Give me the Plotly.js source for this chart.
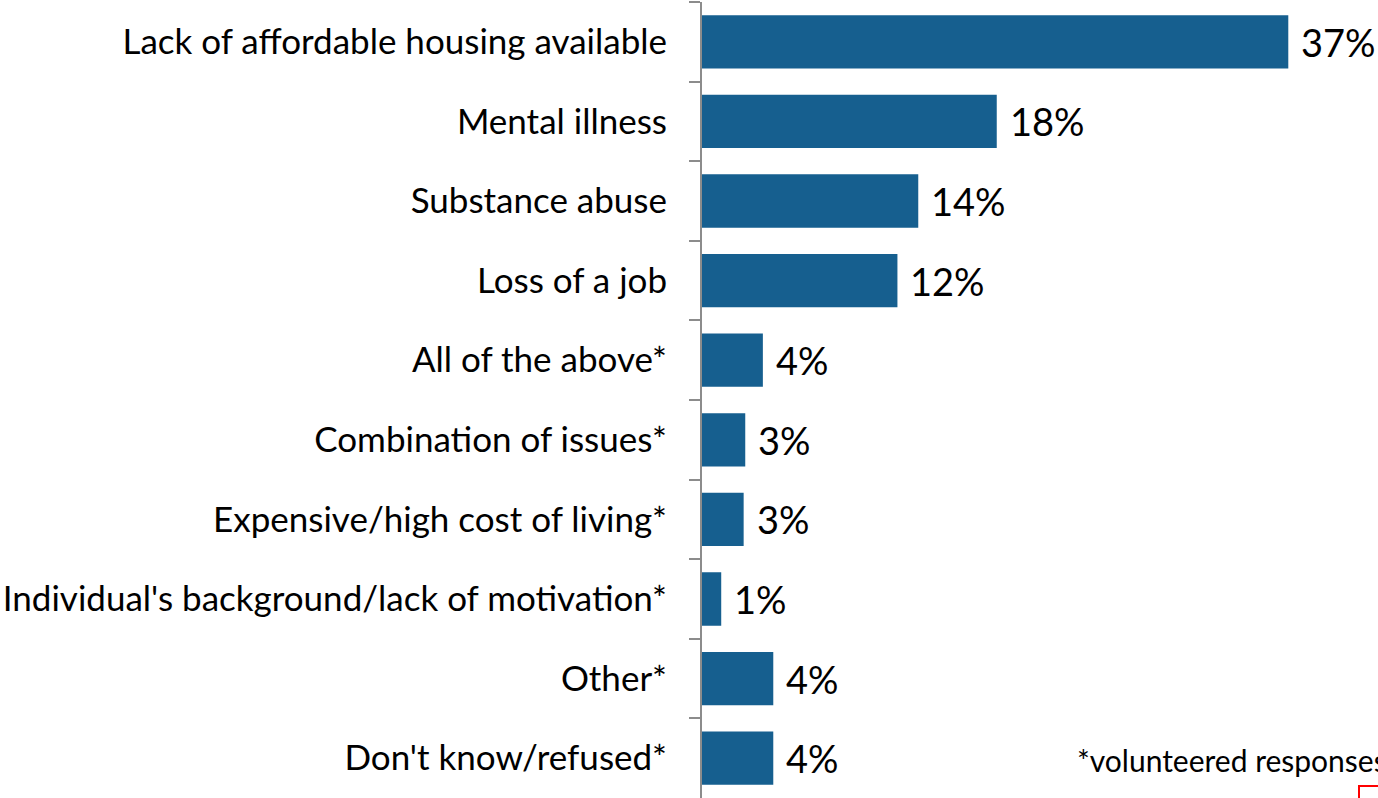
<!DOCTYPE html>
<html>
<head>
<meta charset="utf-8">
<script src="https://cdn.plot.ly/plotly-3.0.1.min.js"></script>
<style>html,body{margin:0;padding:0;background:#fff;}#chart{width:1378px;height:798px;}</style>
</head>
<body>
<div id="chart"></div>
<script>
const categories = [
  "Lack of affordable housing available",
  "Mental illness",
  "Substance abuse",
  "Loss of a job",
  "All of the above*",
  "Combination of issues*",
  "Expensive/high cost of living*",
  "Individual's background/lack of motivation*",
  "Other*",
  "Don't know/refused*"
];
const values = [36.6, 18.4, 13.5, 12.2, 3.8, 2.7, 2.6, 1.2, 4.45, 4.45];
const labels = ["37%", "18%", "14%", "12%", "4%", "3%", "3%", "1%", "4%", "4%"];
const footnote = "*volunteered responses";

const FONT = "Lato, 'Open Sans', sans-serif";
const barColor = "#165f8f";

const trace = {
  type: "bar",
  orientation: "h",
  x: values,
  y: categories,
  marker: {color: barColor, line: {width: 0}},
  hoverinfo: "none"
};

const annotations = categories.map((c, i) => ({
  x: values[i], y: c, xref: "x", yref: "y",
  text: labels[i], showarrow: false,
  xanchor: "left", yanchor: "middle", xshift: 11, yshift: 0,
  font: {family: FONT, size: 38, color: "#000"}
}));
annotations.push({
  x: (1075 - 702) / 676, y: 1 - (760 - 2) / 796, xref: "paper", yref: "paper",
  text: footnote, showarrow: false, xanchor: "left", yanchor: "middle",
  font: {family: FONT, size: 30, color: "#000"}
});

const layout = {
  width: 1378, height: 798,
  margin: {l: 702, r: 0, t: 2, b: 0, pad: 0},
  paper_bgcolor: "#fff", plot_bgcolor: "#fff",
  showlegend: false,
  bargap: 0.33,
  xaxis: {range: [0, 42.2], visible: false, fixedrange: true},
  yaxis: {
    autorange: "reversed",
    showline: true, linecolor: "#8c8c8c", linewidth: 2,
    ticks: "outside", tickson: "boundaries", ticklen: 11, tickwidth: 2, tickcolor: "#8c8c8c",
    ticklabelstandoff: 26,
    showgrid: false, zeroline: false,
    tickfont: {family: FONT, size: 35, color: "#000"},
    fixedrange: true
  },
  annotations: annotations,
  shapes: [{
    type: "rect", xref: "paper", yref: "paper",
    x0: (1359 - 702) / 676, x1: 1.1, y0: -0.2, y1: 1 - (786 - 2) / 796,
    line: {color: "#ff0000", width: 2}, fillcolor: "rgba(0,0,0,0)"
  }]
};

Plotly.newPlot("chart", [trace], layout, {displayModeBar: false, staticPlot: true});
</script>
</body>
</html>
